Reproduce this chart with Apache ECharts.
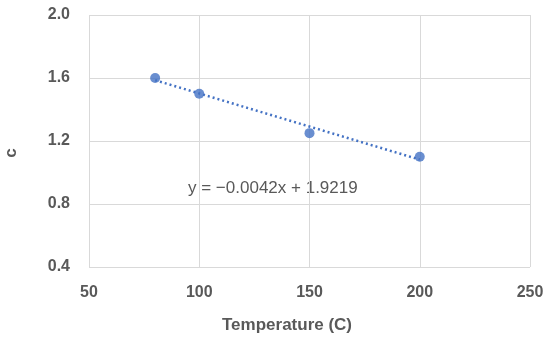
<!DOCTYPE html>
<html><head><meta charset="utf-8">
<script src="https://cdn.jsdelivr.net/npm/echarts@6/dist/echarts.min.js"></script>
<style>html,body{margin:0;padding:0;background:#fff}#c{width:550px;height:341px}</style>
</head><body><div id="c"></div>
<script>
var temperatures = [80, 100, 150, 200];
var cValues = [1.6, 1.5, 1.25, 1.1];
var trendSlope = -0.0042;
var trendIntercept = 1.9219;
var trendLabel = 'y = \u22120.0042x + 1.9219';
var xTitle = 'Temperature (C)';
var yTitle = 'c';

var pts = temperatures.map(function (t, i) { return [t, cValues[i]]; });
var xMin = Math.min.apply(null, temperatures), xMax = Math.max.apply(null, temperatures);
var trend = [[xMin, trendSlope * xMin + trendIntercept], [xMax, trendSlope * xMax + trendIntercept]];

var font = 'Liberation Sans, Arial, sans-serif';
var chart = echarts.init(document.getElementById('c'));
chart.setOption({
  animation: false,
  grid: { left: 89, right: 20, top: 15, bottom: 74, containLabel: false, outerBoundsMode: 'none' },
  xAxis: {
    type: 'value', min: 50, max: 250, interval: 50,
    axisLine: { show: false }, axisTick: { show: false },
    axisLabel: { fontFamily: font, fontSize: 16, fontWeight: 'bold', color: '#595959', margin: 18 },
    splitLine: { show: true, lineStyle: { color: '#d9d9d9', width: 1 } }
  },
  yAxis: {
    type: 'value', min: 0.4, max: 2.0, interval: 0.4,
    axisLine: { show: false }, axisTick: { show: false },
    axisLabel: { fontFamily: font, fontSize: 16, fontWeight: 'bold', color: '#595959', margin: 19,
      formatter: function (v) { return v.toFixed(1); } },
    splitLine: { show: true, lineStyle: { color: '#d9d9d9', width: 1 } }
  },
  series: [
    { type: 'line', data: trend, symbol: 'none', silent: true,
      lineStyle: { color: '#4472C4', width: 2.5, type: [2, 3] }, z: 1 },
    { type: 'scatter', data: pts, symbol: 'circle', symbolSize: 10,
      itemStyle: { color: '#4472C4' }, z: 2 }
  ],
  graphic: [{
    type: 'text', left: 188, top: 180,
    style: { text: trendLabel, fontFamily: font, fontSize: 17, fill: '#595959' }
  }, {
    type: 'text', x: 287, y: 325,
    style: { text: xTitle, fontFamily: font, fontSize: 17, fontWeight: 'bold', fill: '#595959',
      align: 'center', verticalAlign: 'middle' }
  }, {
    type: 'text', x: 11, y: 153, rotation: Math.PI / 2,
    style: { text: yTitle, fontFamily: font, fontSize: 17, fontWeight: 'bold', fill: '#595959',
      align: 'center', verticalAlign: 'middle' }
  }]
});
</script>
</body></html>
